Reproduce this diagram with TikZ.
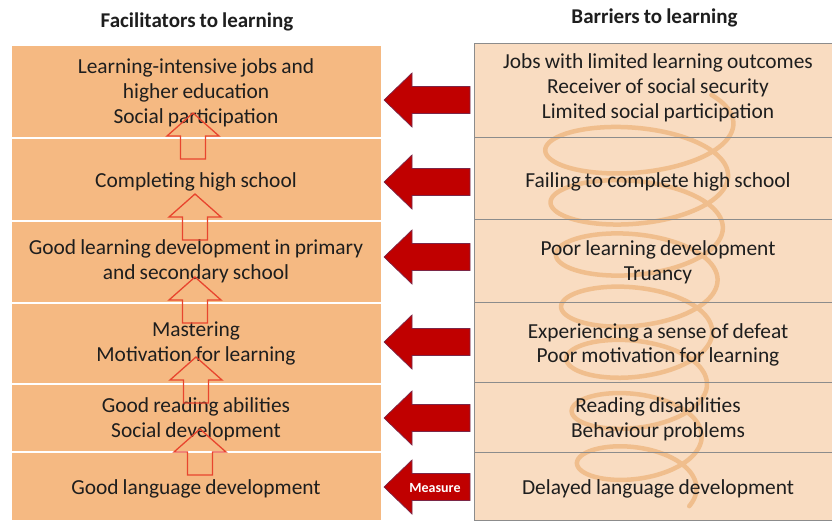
\documentclass[tikz,border=0pt]{standalone}
\usepackage{fontspec}
\setmainfont[WordSpace=0.85]{Carlito}
\usetikzlibrary{calc}

\definecolor{facfill}{HTML}{F5B982}
\definecolor{barfill}{HTML}{F9DCC1}
\definecolor{barline}{HTML}{8C8C8C}
\definecolor{coil}{HTML}{EFB984}
\definecolor{blockred}{HTML}{C00000}
\definecolor{blockedge}{HTML}{7A2748}
\definecolor{uparrow}{HTML}{E8452E}
\definecolor{ink}{HTML}{1E1E1E}

\begin{document}
\begin{tikzpicture}[x=1pt,y=-1pt,
  body/.style={font=\fontsize{21.4}{24.8}\selectfont, text=ink, align=center, inner sep=0pt},
  heading/.style={font=\bfseries\fontsize{21}{24}\selectfont, text=ink, inner sep=0pt, anchor=base},
  facbox/.style={fill=facfill, draw=white, line width=1.5pt, anchor=north west, inner sep=0pt, minimum width=371pt},
  barbox/.style={fill=barfill, draw=none, anchor=north west, inner sep=0pt, minimum width=370pt},
  barrule/.style={draw=barline, line width=1pt},
  coilline/.style={draw=coil, line width=4.5pt, line cap=round, line join=round, opacity=0.85},
  pics/blockarrow/.style={code={
    \draw[fill=blockred, draw=blockedge, line width=0.7pt, line join=miter]
      (-43,0) -- (-15,-27) -- (-15,-13.5) -- (43,-13.5) -- (43,13.5) -- (-15,13.5) -- (-15,27) -- cycle;}},
  pics/hollowup/.style={code={
    \draw[draw=uparrow, line width=1.3pt, line join=miter]
      (0,-23) -- (26,0) -- (12.5,0) -- (12.5,23) -- (-12.5,23) -- (-12.5,0) -- (-26,0) -- cycle;}}
]
\fill[white] (0,0) rectangle (832,523);
\useasboundingbox (0,0) rectangle (832,523);

% column headings
\node[heading] (facHead) at (197,27) {Facilitators to learning};
\node[heading] (barHead) at (654.5,23) {Barriers to learning};

% facilitator boxes
\foreach \i/\t/\b in {1/44/137, 2/137/220, 3/220/302, 4/302/383, 5/383/451, 6/451/520}
  \node[facbox, minimum height={\b-\t}] (l\i) at (10,\t) {};

% barrier boxes
\foreach \i/\t/\b in {1/43/137, 2/137/219, 3/219/302, 4/302/382, 5/382/452, 6/452/520}
  \node[barbox, minimum height={\b-\t}] (r\i) at (474,\t) {};

% coil behind the barrier texts: a helix narrowing towards the bottom
\draw[coilline] plot[variable=\t, domain=-0.7:44.48, samples=800, smooth]
  ({638 + (96 - 38*(\t+0.7)/45.18)*cos(\t r)},
   {123.9 + 8.3*\t + (36 - 8*(\t+0.7)/45.18)*sin(\t r)});

% barrier box outlines
\foreach \i in {1,...,6}
  \draw[barrule] (r\i.north west) rectangle (r\i.south east);

% facilitator texts
\node[body] (lt1) at (196,93) {Learning-intensive jobs and\\higher education\\Social participation};
\node[body] (lt2) at (196,182) {Completing high school};
\node[body] (lt3) at (196,261.5) {Good learning development in primary\\and secondary school};
\node[body] (lt4) at (196,343.5) {Mastering\\Motivation for learning};
\node[body] (lt5) at (196,419.5) {Good reading abilities\\Social development};
\node[body] (lt6) at (196,489) {Good language development};

% barrier texts
\node[body] (rt1) at (658,88) {Jobs with limited learning outcomes\\Receiver of social security\\Limited social participation};
\node[body] (rt2) at (658,182) {Failing to complete high school};
\node[body] (rt3) at (658,262) {Poor learning development\\Truancy};
\node[body] (rt4) at (658,345) {Experiencing a sense of defeat\\Poor motivation for learning};
\node[body] (rt5) at (658,419.5) {Reading disabilities\\Behaviour problems};
\node[body] (rt6) at (658,489) {Delayed language development};

% upward steps between facilitators
\pic at (193,136) {hollowup};
\pic at (195,217) {hollowup};
\pic at (195,300) {hollowup};
\pic at (196,380) {hollowup};
\pic at (200,452) {hollowup};

% barriers pressing on facilitators
\foreach \y in {100,182,257,342,418,487}
  \pic at (427,\y) {blockarrow};
\node[font=\bfseries\fontsize{14}{16}\selectfont, text=white, inner sep=0pt] (measure) at (435,488) {Measure};
\end{tikzpicture}
\end{document}
